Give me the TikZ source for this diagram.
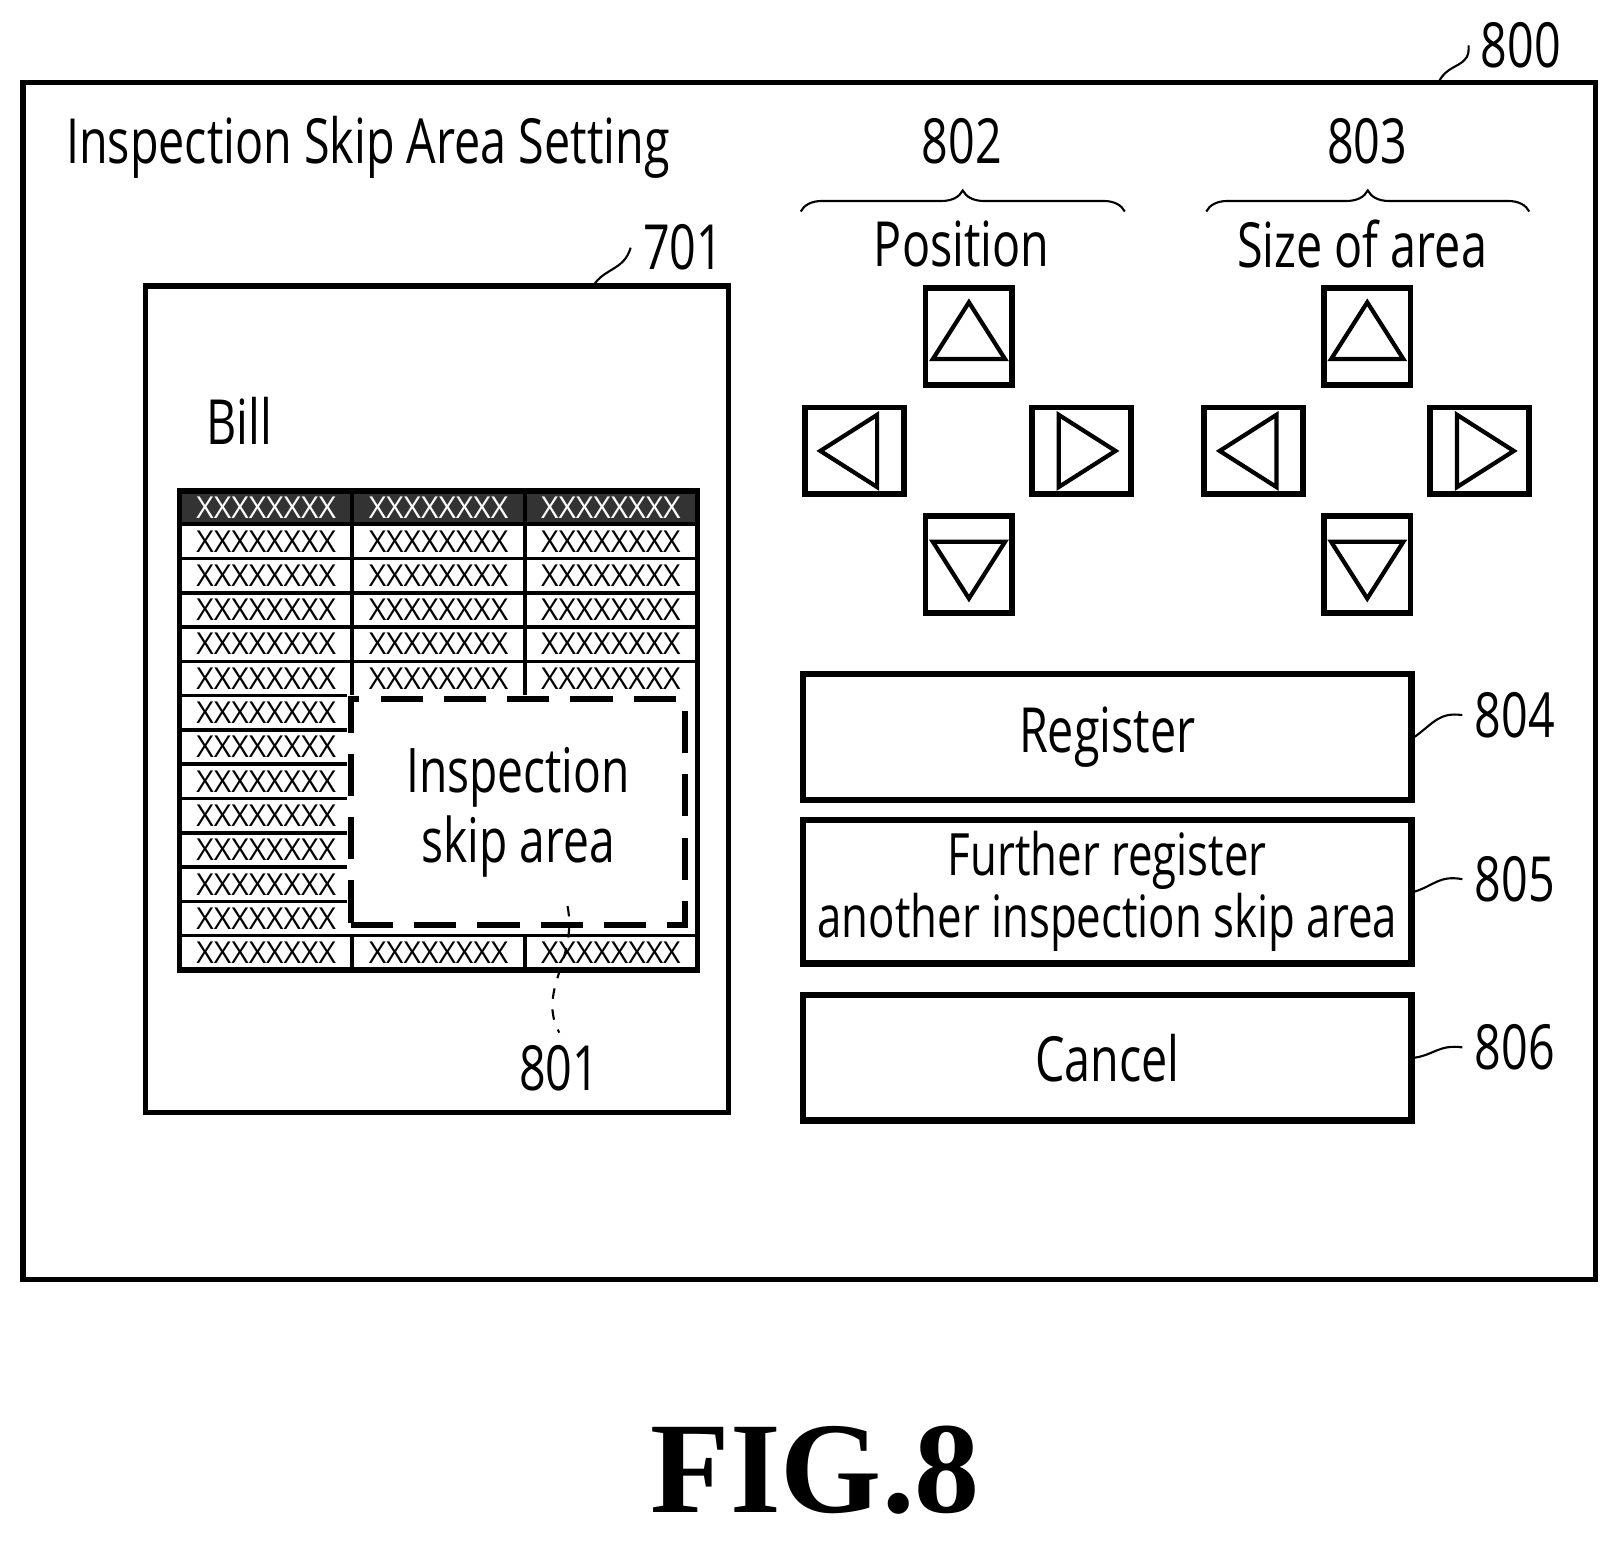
\documentclass[tikz,border=0pt]{standalone}
\usepackage{fontspec}
\setmainfont{Open Sans}
\newfontfamily\cond[FakeStretch=0.75]{Open Sans}
\newfontfamily\figfont{Liberation Serif}
\usetikzlibrary{calc,positioning,decorations.pathreplacing}
\tikzset{
  frame/.style={draw,line width=1.6pt},
  button/.style={draw,line width=1.6pt,minimum width=84\pxu,minimum height=94\pxu,inner sep=0pt},
  sidebutton/.style={button,minimum width=96\pxu,minimum height=84\pxu},
  bigbutton/.style={draw,line width=1.8pt,minimum width=590\pxu,minimum height=122\pxu,align=center,
    inner xsep=0pt,font=\cond\fontsize{17.7}{15.5}\selectfont},
  label/.style={font=\cond\fontsize{17.7}{18}\selectfont},
  cell/.style={font=\fontsize{8.6}{9}\selectfont,inner sep=0pt},
  leader/.style={line width=0.6pt},
}
\newcommand{\pxu}{*0.01032cm}
\begin{document}
\begin{tikzpicture}[x=0.01032cm,y=-0.01032cm]
  \useasboundingbox (0,0) rectangle (1568,1498);

  % screen
  \draw[frame] (22,80) rectangle (1546,1240);
  \node[label,anchor=west] (title) at (52,143) {Inspection Skip Area Setting};
  \node[label] (n800) at (1474,44) {800};
  \draw[leader] (1395,78) .. controls (1405,60) and (1425,66) .. (n800.west);

  % bill
  \draw[frame] (141,277) rectangle (706,1078);
  \node[label] (n701) at (662,240) {701};
  \draw[leader] (575,277) .. controls (585,260) and (605,262) .. (n701.west);
  \node[label] (bill) at (232,408) {Bill};

  % table
  \fill[black!80] (174,476) rectangle (676,508);
  \foreach \cx in {258,425,592}
    \node[cell,text=white] at (\cx,492) {XXXXXXXX};
  \foreach \r in {0,...,12}{
    \pgfmathsetmacro{\ry}{508+33.23*\r}
    \ifnum\r<5
      \draw[line width=1pt] (174,\ry) -- (676,\ry);
      \foreach \cx in {425,592} \node[cell] at (\cx,\ry+16.6) {XXXXXXXX};
    \else
      \ifnum\r=12
        \draw[line width=1pt] (174,\ry) -- (676,\ry);
        \foreach \cx in {425,592} \node[cell] at (\cx,\ry+16.6) {XXXXXXXX};
      \else
        \draw[line width=1pt] (174,\ry) -- (336,\ry);
      \fi
    \fi
    \node[cell] at (258,\ry+16.6) {XXXXXXXX};
  }
  \draw[line width=1pt] (341,476) -- (341,674) (509,476) -- (509,674)
    (341,906) -- (341,940) (509,906) -- (509,940);
  \draw[line width=1.6pt] (174,476) rectangle (676,940);
  \node[draw,fill=white,dashed,line width=1.6pt,dash pattern=on 12pt off 6pt,
    minimum width=324\pxu,minimum height=219\pxu,align=center,
    font=\cond\fontsize{17.5}{20}\selectfont] (skip) at (502,787) {Inspection\\skip area};
  \node[label] (n801) at (542,1035) {801};
  \draw[leader,dashed] (550,878) .. controls (560,930) and (520,960) .. (n801.north);

  % position buttons
  \node[label] (n802) at (932,137) {802};
  \node[label] (pos) at (932,236) {Position};
  \draw[leader,decorate,decoration={brace,amplitude=6pt}] (776,205) -- (1090,205);
  \node[button] (pu) at (939,326) {};
  \node[sidebutton] (pl) at (828,437) {};
  \node[sidebutton] (pr) at (1048,437) {};
  \node[button] (pd) at (939,547) {};

  % size buttons
  \node[label] (n803) at (1325,137) {803};
  \node[label] (size) at (1320,236) {Size of area};
  \draw[leader,decorate,decoration={brace,amplitude=6pt}] (1169,205) -- (1482,205);
  \node[button] (su) at (1325,326) {};
  \node[sidebutton] (sl) at (1215,437) {};
  \node[sidebutton] (sr) at (1434,437) {};
  \node[button] (sd) at (1325,547) {};

  % arrow glyphs
  \foreach \b in {pu,su}
    \draw[line width=1.2pt] ($(\b)+(-35,22)$) -- ($(\b)+(0,-33)$) -- ($(\b)+(35,22)$) -- cycle;
  \foreach \b in {pd,sd}
    \draw[line width=1.2pt] ($(\b)+(-35,-22)$) -- ($(\b)+(0,33)$) -- ($(\b)+(35,-22)$) -- cycle;
  \foreach \b in {pl,sl}
    \draw[line width=1.2pt] ($(\b)+(22,-35)$) -- ($(\b)+(-33,0)$) -- ($(\b)+(22,35)$) -- cycle;
  \foreach \b in {pr,sr}
    \draw[line width=1.2pt] ($(\b)+(-22,-35)$) -- ($(\b)+(33,0)$) -- ($(\b)+(-22,35)$) -- cycle;

  % command buttons
  \node[bigbutton] (reg) at (1073,714) {Register};
  \node[bigbutton,font=\cond\fontsize{16.6}{15.5}\selectfont] (further) at (1073,864)
    {Further register\\another inspection skip area};
  \node[bigbutton] (cancel) at (1073,1025) {Cancel};
  \node[label] (n804) at (1468,693) {804};
  \node[label] (n805) at (1468,852) {805};
  \node[label] (n806) at (1468,1015) {806};
  \draw[leader] (reg.east) .. controls (1390,700) and (1395,690) .. (n804.west);
  \draw[leader] (further.east) .. controls (1390,858) and (1395,848) .. (n805.west);
  \draw[leader] (cancel.east) .. controls (1390,1022) and (1395,1012) .. (n806.west);

  \node[font=\figfont\bfseries\fontsize{37}{39}\selectfont] (fig) at (790,1425) {FIG.8};
\end{tikzpicture}
\end{document}
